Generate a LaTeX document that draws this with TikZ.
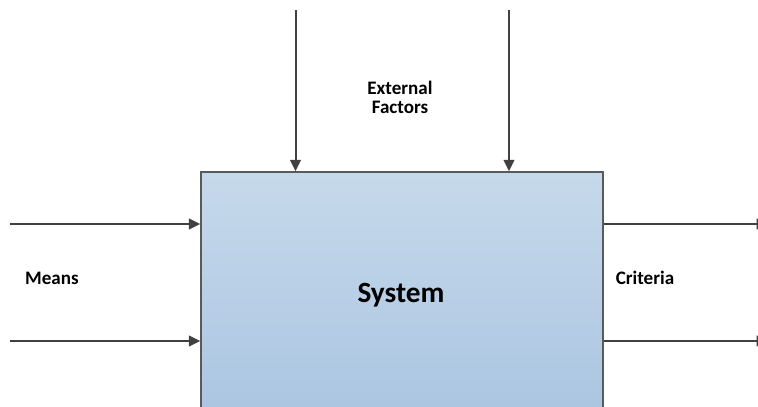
\documentclass[tikz,border=0pt]{standalone}
\usepackage{fontspec}
\setmainfont{Carlito}
\usetikzlibrary{arrows.meta}
\definecolor{linegray}{RGB}{64,64,64}
\definecolor{boxedge}{RGB}{90,90,90}
\definecolor{boxtop}{RGB}{198,217,235}
\definecolor{boxbottom}{RGB}{168,195,224}
\begin{document}
\begin{tikzpicture}[x=0.75pt,y=-0.75pt,
  flow/.style={draw=linegray,line width=1.5pt,-{Triangle[length=8.5pt,width=8pt]}},
  sysbox/.style={rectangle,draw=boxedge,line width=1.1pt,top color=boxtop,bottom color=boxbottom,
    minimum width=301.5pt,minimum height=201pt,inner sep=0pt},
  caption/.style={font=\bfseries\fontsize{14.3}{14.5}\selectfont,align=center,inner sep=0pt},
  title/.style={font=\bfseries\fontsize{22}{26}\selectfont,inner sep=0pt}]
\useasboundingbox (0,0) rectangle (758,407);
\clip (0,0) rectangle (758,407);
% the system block (runs past the lower edge)
\node[sysbox] (sys) at (402,306) {};
\node[title] (name) at (401,295) {System};
% inputs from above
\coordinate (ext1) at (295.5,10);
\coordinate (ext2) at (509,10);
\draw[flow] (ext1) -- (ext1 |- sys.north);
\draw[flow] (ext2) -- (ext2 |- sys.north);
\node[caption] (extlabel) at (400,97.5) {External\\Factors};
% means entering on the left
\coordinate (in1) at (10,224);
\coordinate (in2) at (10,341);
\draw[flow] (in1) -- (in1 -| sys.west);
\draw[flow] (in2) -- (in2 -| sys.west);
\node[caption] (means) at (52,278) {Means};
% criteria leaving on the right
\coordinate (out1) at (768,224);
\coordinate (out2) at (768,341);
\draw[flow] (out1 -| sys.east) -- (out1);
\draw[flow] (out2 -| sys.east) -- (out2);
\node[caption] (criteria) at (645,278) {Criteria};
\end{tikzpicture}
\end{document}
